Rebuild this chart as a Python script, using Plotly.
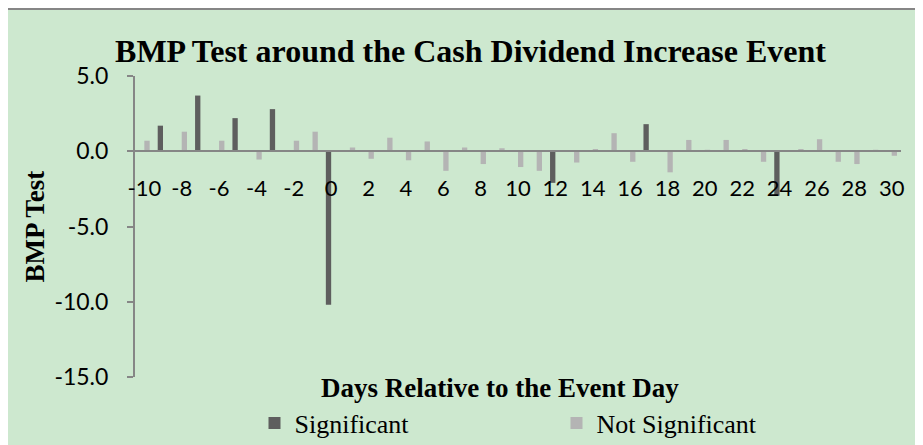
import plotly.graph_objects as go

# ---- data ----
days = list(range(-10, 31))
significant = [None, 1.7, None, 3.7, None, 2.2, None, 2.8, None, None,
               -10.2, None, None, None, None, None, None, None, None, None,
               None, None, -2.1, None, None, None, None, 1.8, None, None,
               None, None, None, None, -2.95, None, None, None, None, None, None]
not_significant = [0.7, None, 1.3, None, 0.7, None, -0.55, None, 0.7, 1.3,
                   None, 0.25, -0.5, 0.9, -0.6, 0.65, -1.3, 0.25, -0.85, 0.2,
                   -1.05, -1.3, None, -0.75, 0.15, 1.2, -0.7, None, -1.4, 0.75,
                   0.1, 0.75, 0.15, -0.7, None, 0.15, 0.8, -0.7, -0.85, 0.1, -0.3]
x_tickvals = list(range(-10, 31, 2))
x_ticktext = [str(v) for v in x_tickvals]
y_tickvals = [5, 0, -5, -10, -15]
y_ticktext = ["5.0", "0.0", "-5.0", "-10.0", "-15.0"]

# ---- layout constants ----
W, H = 923, 445
OFF = 8  # page body margin
ML, MR, MT, MB = 135 - OFF, 22 + OFF, 76 - OFF, 68 + OFF
PW, PH = W - ML - MR, H - MT - MB
GREEN = "#CDE8CF"
AXIS = "#868686"
DARK = "#5E5E5E"
LIGHT = "#B4B4B4"
SERIF = "Liberation Serif"
SANS = "Lato"

def px_x(p):
    return (p - OFF - ML) / PW

def px_y(p):
    return (H - (p - OFF) - MB) / PH

fig = go.Figure()
fig.add_trace(go.Bar(x=days, y=significant, name="Significant",
                     marker=dict(color=DARK, line=dict(width=0))))
fig.add_trace(go.Bar(x=days, y=not_significant, name="Not Significant",
                     marker=dict(color=LIGHT, line=dict(width=0))))

fig.update_layout(
    width=W, height=H,
    margin=dict(l=ML, r=MR, t=MT, b=MB, autoexpand=False),
    paper_bgcolor="white",
    plot_bgcolor="rgba(0,0,0,0)",
    barmode="group", bargap=0.43, bargroupgap=0,
    showlegend=True,
    title=dict(text="BMP Test around the Cash Dividend Increase Event",
               x=(470.5 - OFF) / W, xanchor="center", xref="container",
               y=1 - (50.5 - OFF) / H, yanchor="middle", yref="container",
               font=dict(family=SERIF, size=32, color="black", weight="bold")),
    legend=dict(orientation="h", xref="container", yref="container",
                x=(254.5 - OFF) / W, xanchor="left",
                y=1 - (423 - OFF) / H, yanchor="middle",
                entrywidth=257, entrywidthmode="pixels",
                font=dict(family=SERIF, size=26, color="black"),
                bgcolor="rgba(0,0,0,0)", traceorder="normal"),
    xaxis=dict(range=[-10.5, 30.5], tickmode="array", tickvals=x_tickvals,
               ticktext=x_ticktext, anchor="free", position=0.75,
               showline=True, linecolor=AXIS, linewidth=2, ticks="",
               showgrid=False, zeroline=False, ticklabelstandoff=17,
               tickfont=dict(family=SANS, size=22, color="black"),
               fixedrange=True),
    yaxis=dict(range=[-15, 5], tickmode="array", tickvals=y_tickvals,
               ticktext=y_ticktext, showline=True, linecolor=AXIS, linewidth=2,
               ticks="outside", ticklen=6, tickwidth=1.5, tickcolor=AXIS,
               showgrid=False, zeroline=False, ticklabelstandoff=14,
               tickfont=dict(family=SANS, size=23, color="black"),
               fixedrange=True),
    shapes=[dict(type="rect", xref="paper", yref="paper", layer="below",
                 x0=px_x(7), x1=px_x(W + 20), y0=px_y(H + 20), y1=px_y(9),
                 fillcolor=GREEN, line=dict(color=AXIS, width=2))],
    annotations=[
        dict(text="Days Relative to the Event Day", xref="paper", yref="paper",
             x=px_x(500), y=px_y(388), xanchor="center", yanchor="middle",
             showarrow=False,
             font=dict(family=SERIF, size=27, color="black", weight="bold")),
        dict(text="BMP Test", xref="paper", yref="paper", textangle=-90,
             x=px_x(34), y=px_y(226.5), xanchor="center", yanchor="middle",
             showarrow=False,
             font=dict(family=SERIF, size=27, color="black", weight="bold")),
    ],
)

fig.write_html("out.html")
